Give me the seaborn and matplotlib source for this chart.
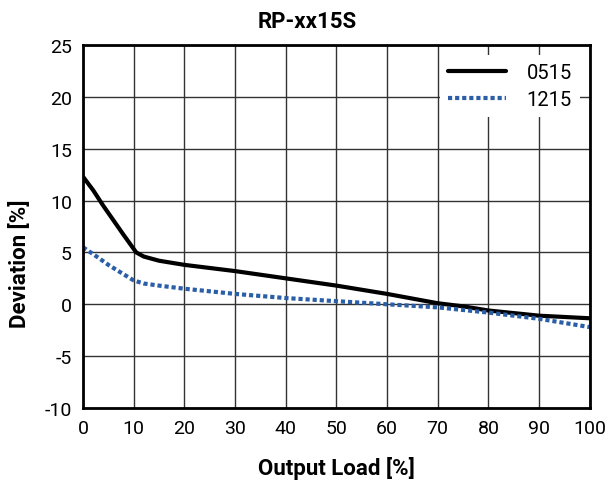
import matplotlib
matplotlib.use("Agg")
import matplotlib.pyplot as plt
import seaborn as sns
import pandas as pd

# values
load_0515 = [0, 2, 4, 6, 8, 10.5, 12, 15, 20, 30, 40, 50, 60, 70, 75, 80, 90, 100]
dev_0515 = [12.3, 11.0, 9.5, 8.1, 6.7, 5.0, 4.6, 4.2, 3.8, 3.2, 2.5, 1.8, 1.0, 0.1, -0.2, -0.6, -1.1, -1.35]

load_1215 = [0, 3, 5, 8, 10, 12, 15, 20, 30, 40, 50, 60, 70, 80, 90, 100]
dev_1215 = [5.5, 4.5, 3.8, 2.9, 2.3, 2.0, 1.8, 1.5, 1.0, 0.6, 0.3, 0.0, -0.3, -0.8, -1.4, -2.2]

x_ticks = list(range(0, 101, 10))
y_ticks = list(range(-10, 26, 5))

df = pd.concat([
    pd.DataFrame({"load": load_0515, "dev": dev_0515, "model": "0515"}),
    pd.DataFrame({"load": load_1215, "dev": dev_1215, "model": "1215"}),
])

sns.set_style("white")
plt.rcParams['font.family'] = ['Roboto', 'DejaVu Sans']
plt.rcParams['axes.unicode_minus'] = False
plt.rcParams['text.color'] = 'black'

fig = plt.figure(figsize=(6.08, 4.89), dpi=100)
ax = fig.add_axes([0.1365, 0.1636, 0.8335, 0.7424])

sns.lineplot(data=df, x="load", y="dev", hue="model", style="model",
             palette={"0515": "black", "1215": "#2a5fa8"},
             dashes={"0515": "", "1215": (1, 0.7)},
             linewidth=3, ax=ax, sort=False)

ax.set_xlim(0, 100)
ax.set_ylim(-10, 25)
ax.set_xticks(x_ticks)
ax.set_yticks(y_ticks)
ax.grid(True, color="#333333", linewidth=1)
ax.set_axisbelow(True)
for s in ax.spines.values():
    s.set_color("black")
    s.set_linewidth(2)
ax.tick_params(labelsize=14, length=0, pad=8, labelcolor="black")

ax.set_xlabel("Output Load [%]", fontsize=16, fontweight="bold", color="black")
ax.xaxis.set_label_coords(0.5, -0.163)
ax.xaxis.label.set_va("center")
ax.set_ylabel("Deviation [%]", fontsize=16, fontweight="bold", color="black")
ax.yaxis.set_label_coords(-0.124, 0.40)
ax.yaxis.label.set_va("center")
fig.text(0.505, 1 - 22 / 489, "RP-xx15S", fontsize=16, fontweight="bold",
         ha="center", va="center")

leg = ax.legend(loc="upper right", frameon=True, fontsize=14.5, handlelength=2.9,
                handletextpad=1.0, labelspacing=0.4, borderaxespad=0.5,
                fancybox=False, title=None)
leg.get_frame().set_edgecolor("none")
leg.get_frame().set_facecolor("white")
leg.get_frame().set_alpha(1)

fig.savefig("out.png", dpi=100)
